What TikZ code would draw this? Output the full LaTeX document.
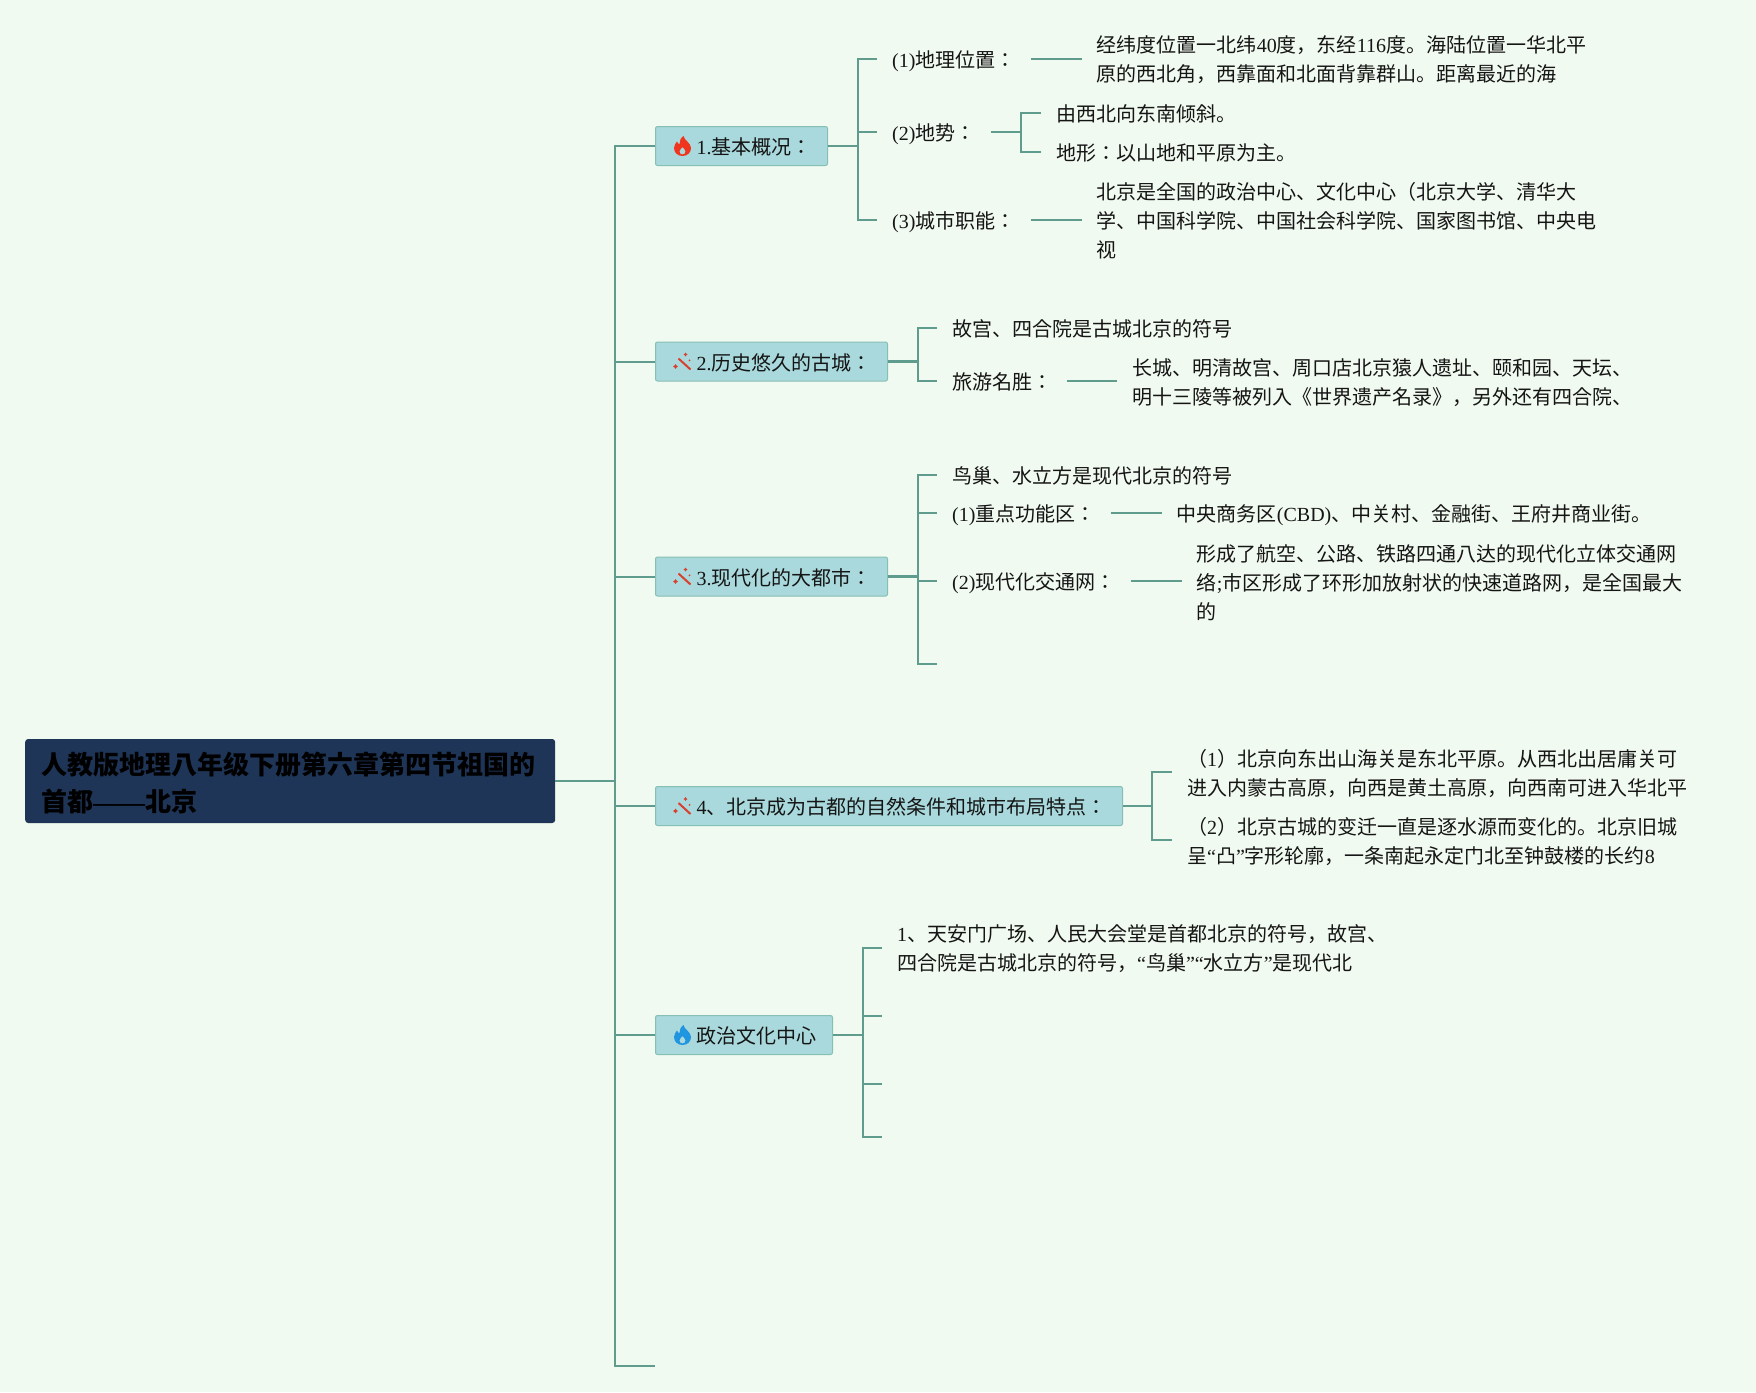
\documentclass[tikz,border=0pt]{standalone}
\usepackage{fontspec}
\setmainfont{Noto Sans CJK JP}
\newfontfamily\latfont{Liberation Serif}
\newcommand{\lat}[1]{{\latfont #1}}
\newcommand{\linestrut}{\rule[-5.4pt]{0pt}{28pt}}
\newcommand{\firstline}{\rule{0pt}{20pt}}
\usetikzlibrary{positioning}
\definecolor{clrpage}{HTML}{F1FAF0}
\definecolor{clrlink}{HTML}{5F9C8E}
\definecolor{clrblock}{HTML}{A9D9DC}
\definecolor{clrborder}{HTML}{86BFB4}
\definecolor{clrroot}{HTML}{1F3557}
\definecolor{clrtext}{HTML}{151515}
\definecolor{clrred}{HTML}{F0351F}
\definecolor{clrblue}{HTML}{2196E0}
\definecolor{clrwand}{HTML}{D8402F}

\begin{document}
\begin{tikzpicture}[
    x=1pt, y=-1pt,
    every node/.style={font=\fontsize{20}{29}\selectfont, text=clrtext},
    rootbox/.style={fill=clrroot, rounded corners=3pt, text width=498pt, inner xsep=16pt,
                    minimum height=84pt, align=left, anchor=west,
                    font=\fontsize{26}{37}\selectfont\bfseries, text=black,
                    execute at begin node=\rule{0pt}{26.5pt}},
    block/.style={draw=clrborder, fill=clrblock, rounded corners=2pt, line width=1pt, anchor=west,
                  minimum height=39pt, inner xsep=14pt, inner ysep=0pt,
                  execute at begin node=\linestrut\hspace*{27pt},
                  execute at end node=\hspace*{2pt}\linestrut},
    leaflines/.style={align=left, anchor=west, inner xsep=15pt, inner ysep=0pt},
    leaf/.style={leaflines, execute at begin node=\linestrut, execute at end node=\linestrut},
    link/.style={color=clrlink, line width=2pt},
    stemlink/.style={color=clrlink, line width=2.8pt},
    fire/.pic={
        \fill[even odd rule] (0,10) .. controls (-5,10) and (-8.5,6.5) .. (-8.5,2)
            .. controls (-8.5,-1) and (-6.5,-3) .. (-5.5,-4.5)
            .. controls (-5,-2.5) and (-4,-2) .. (-3,-2)
            .. controls (-3,-5) and (-2,-8) .. (1,-10)
            .. controls (1,-6.5) and (8.5,-3) .. (8.5,2)
            .. controls (8.5,6.5) and (5,10) .. (0,10) -- cycle
            (0,8.5) .. controls (-2,8.5) and (-3,7) .. (-3,5.5)
            .. controls (-3,3.5) and (-1,2.5) .. (0,1)
            .. controls (1,2.5) and (3,3.5) .. (3,5.5)
            .. controls (3,7) and (2,8.5) .. (0,8.5) -- cycle;
    },
    wand/.pic={
        \draw[line width=2pt, color=clrwand] (-4,-3) -- (8,8);
        \fill[color=clrwand] (3,-9) -- (3.8,-7.8) -- (5,-7) -- (3.8,-6.2) -- (3,-5) -- (2.2,-6.2) -- (1,-7) -- (2.2,-7.8) -- cycle;
        \fill[color=clrwand] (-7,2.5) -- (-6,4) -- (-4.5,5) -- (-6,6) -- (-7,7.5) -- (-8,6) -- (-9.5,5) -- (-8,4) -- cycle;
        \fill[color=clrwand] (7,-1.2) circle (1pt);
    },
]
\useasboundingbox (0,0) rectangle (1756,1392);
\fill[clrpage] (0,0) rectangle (1756,1392);
\node[rootbox] (n_0) at (25,781) {人教版地理八年级下册第六章第四节祖国的\\首都\lat{——}北京};
\node[block] (n_1) at (655,146) {\lat{1.}基本概况：};
\node[block] (n_2) at (655,361.5) {\lat{2.}历史悠久的古城：};
\node[block] (n_3) at (655,576.5) {\lat{3.}现代化的大都市：};
\node[block] (n_4) at (655,806) {\lat{4}、北京成为古都的自然条件和城市布局特点：};
\node[block] (n_5) at (655,1035) {政治文化中心};
\coordinate (c_0) at (615,781);
\coordinate (c_6) at (655,1366);
\pic[color=clrred, fill=clrred] at ([xshift=27.5pt]n_1.west) {fire};
\pic at ([xshift=27.5pt]n_2.west) {wand};
\pic at ([xshift=27.5pt]n_3.west) {wand};
\pic at ([xshift=27.5pt]n_4.west) {wand};
\pic[color=clrblue, fill=clrblue] at ([xshift=27.5pt]n_5.west) {fire};
\node[leaf] (n_1_1) at (877,58.5) {\lat{(1)}地理位置：};
\node[leaflines, right=51pt of n_1_1] (n_1_1_1) {\firstline 经纬度位置一北纬\lat{40}度，东经\lat{116}度。海陆位置一华北平\\原的西北角，西靠面和北面背靠群山。距离最近的海};
\node[leaf] (n_1_2) at (877,132) {\lat{(2)}地势：};
\node[leaf] (n_1_2_1) at (1041,112.5) {由西北向东南倾斜。};
\node[leaf] (n_1_2_2) at (1041,151.5) {地形：以山地和平原为主。};
\node[leaf] (n_1_3) at (877,219.5) {\lat{(3)}城市职能：};
\node[leaflines, right=51pt of n_1_3] (n_1_3_1) {\firstline 北京是全国的政治中心、文化中心（北京大学、清华大\\学、中国科学院、中国社会科学院、国家图书馆、中央电\\视};
\node[leaf] (n_2_1) at (937,328) {故宫、四合院是古城北京的符号};
\node[leaf] (n_2_2) at (937,381) {旅游名胜：};
\node[leaflines, right=50pt of n_2_2] (n_2_2_1) {\firstline 长城、明清故宫、周口店北京猿人遗址、颐和园、天坛、\\明十三陵等被列入《世界遗产名录》，另外还有四合院、};
\node[leaf] (n_3_1) at (937,475) {鸟巢、水立方是现代北京的符号};
\node[leaf] (n_3_2) at (937,513) {\lat{(1)}重点功能区：};
\node[leaf, right=51pt of n_3_2] (n_3_2_1) {中央商务区\lat{(CBD)}、中关村、金融街、王府井商业街。};
\node[leaf] (n_3_3) at (937,581) {\lat{(2)}现代化交通网：};
\node[leaflines, right=51pt of n_3_3] (n_3_3_1) {\firstline 形成了航空、公路、铁路四通八达的现代化立体交通网\\络\lat{;}市区形成了环形加放射状的快速道路网，是全国最大\\的};
\coordinate (n_3_4) at (937,664);
\node[leaflines] (n_4_1) at (1172,772) {\firstline （\lat{1}）北京向东出山海关是东北平原。从西北出居庸关可\\进入内蒙古高原，向西是黄土高原，向西南可进入华北平};
\node[leaflines] (n_4_2) at (1172,840) {\firstline （\lat{2}）北京古城的变迁一直是逐水源而变化的。北京旧城\\呈\lat{“}凸\lat{”}字形轮廓，一条南起永定门北至钟鼓楼的长约\lat{8}};
\node[leaflines] (n_5_1) at (882,947.5) {\firstline \lat{1}、天安门广场、人民大会堂是首都北京的符号，故宫、\\四合院是古城北京的符号，\lat{“}鸟巢\lat{”“}水立方\lat{”}是现代北};
\coordinate (n_5_2) at (882,1016);
\coordinate (n_5_3) at (882,1084);
\coordinate (n_5_4) at (882,1137);
\coordinate[right=29.5pt of n_1.east] (b_1);
\coordinate[right=29.5pt of n_2.east] (b_2);
\coordinate[right=29.5pt of n_3.east] (b_3);
\coordinate[right=29pt of n_4.east] (b_4);
\coordinate[right=29.5pt of n_5.east] (b_5);
\coordinate[right=30pt of n_1_2.east] (b_1_2);
\draw[link] (n_0.east) -- (c_0);
\foreach \n in {n_1,n_2,n_3,n_4,n_5,c_6}
    \draw[link] (c_0) |- (\n);
\draw[stemlink] (n_1.east) -- (b_1);
\draw[stemlink] (n_2.east) -- (b_2);
\draw[stemlink] (n_3.east) -- (b_3);
\draw[stemlink] (n_4.east) -- (b_4);
\draw[stemlink] (n_5.east) -- (b_5);
\foreach \n in {n_1_1,n_1_2,n_1_3}
    \draw[link] (b_1) |- (\n.west);
\foreach \n in {n_2_1,n_2_2}
    \draw[link] (b_2) |- (\n.west);
\foreach \n in {n_3_1,n_3_2,n_3_3}
    \draw[link] (b_3) |- (\n.west);
\draw[link] (b_3) |- (n_3_4);
\foreach \n in {n_4_1,n_4_2}
    \draw[link] (b_4) |- (\n.west);
\draw[link] (b_5) |- (n_5_1.west);
\foreach \n in {n_5_2,n_5_3,n_5_4}
    \draw[link] (b_5) |- (\n);
\draw[link] (n_1_1.east) -- (n_1_1_1.west);
\draw[link] (n_1_3.east) -- (n_1_3_1.west);
\draw[link] (n_2_2.east) -- (n_2_2_1.west);
\draw[link] (n_3_2.east) -- (n_3_2_1.west);
\draw[link] (n_3_3.east) -- (n_3_3_1.west);
\draw[stemlink] (n_1_2.east) -- (b_1_2);
\foreach \n in {n_1_2_1,n_1_2_2}
    \draw[link] (b_1_2) |- (\n.west);
\end{tikzpicture}
\end{document}
